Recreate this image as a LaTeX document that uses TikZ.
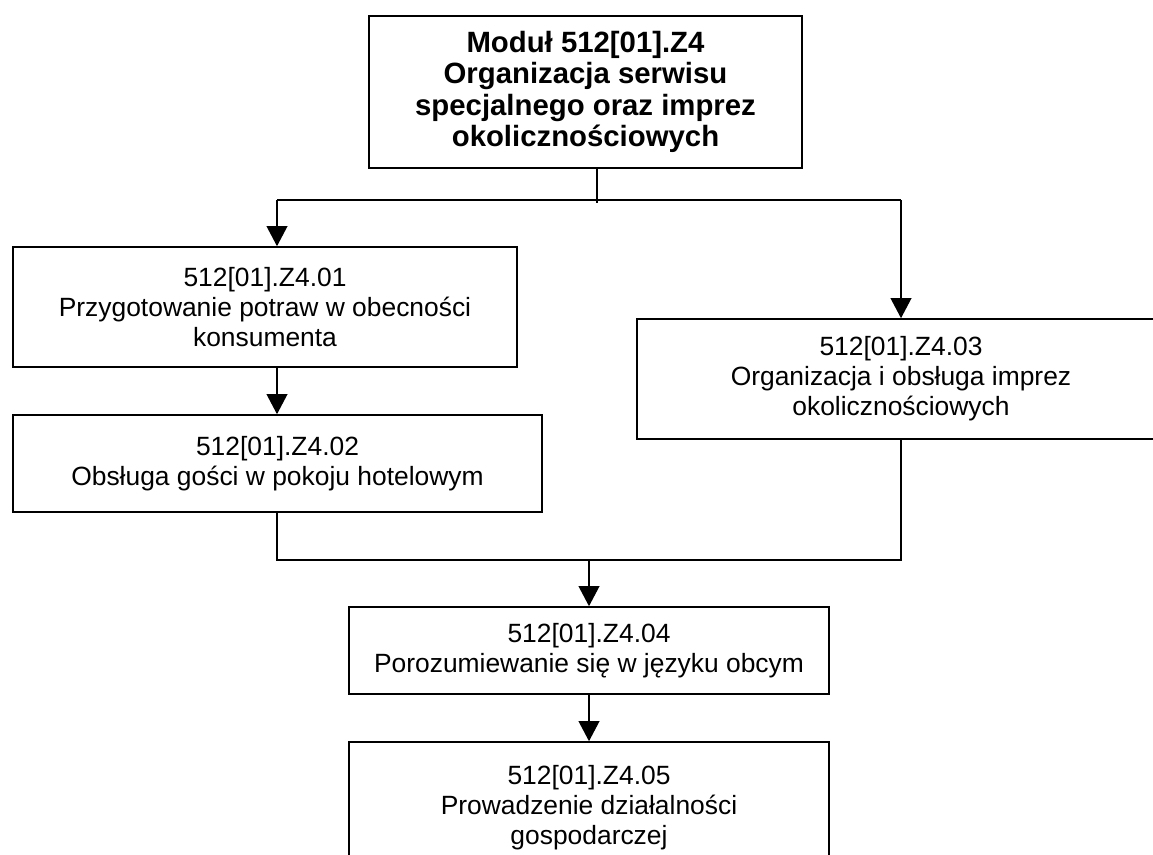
\documentclass[tikz,border=0pt]{standalone}
\usepackage{fontspec}
\setmainfont{Liberation Sans}
\usepackage{tikz}
\usetikzlibrary{arrows.meta}

\begin{document}
\begin{tikzpicture}[x=0.75pt,y=-0.75pt,
    box/.style={draw, line width=1.2pt, rectangle, inner sep=0pt, align=center,
                font=\fontsize{19.8}{22.5}\selectfont},
    modbox/.style={box, line width=2.1pt, font=\fontsize{22}{23.5}\selectfont\bfseries},
    line/.style={line width=1.2pt},
    arr/.style={line, -{Triangle[length=15pt,width=15.5pt]}}]

\useasboundingbox (0,0) rectangle (1153,854);
\clip (0,0) rectangle (1153,854);

%boxes
\node[modbox, minimum width=324.75pt, minimum height=114pt] (modul) at (585.5,92)
    {Moduł 512[01].Z4\\Organizacja serwisu\\specjalnego oraz imprez\\okolicznościowych};
\node[box, minimum width=378pt, minimum height=90pt] (z401) at (265,307)
    {512[01].Z4.01\\Przygotowanie potraw w obecności\\konsumenta};
\node[box, minimum width=396.75pt, minimum height=72.75pt] (z402) at (277.5,463.5)
    {512[01].Z4.02\\Obsługa gości w pokoju hotelowym};
\node[box, minimum width=396pt, minimum height=90pt] (z403) at (901,379)
    {512[01].Z4.03\\Organizacja i obsługa imprez\\okolicznościowych};
\node[box, minimum width=360pt, minimum height=65.25pt] (z404) at (589,650.5)
    {512[01].Z4.04\\Porozumiewanie się w języku obcym};
\node[box, minimum width=360pt, minimum height=99pt] (z405) at (589,808)
    {512[01].Z4.05\\Prowadzenie działalności\\gospodarczej};

%branch points
\coordinate (fork)  at (597,200);
\coordinate (forkL) at (277,200);
\coordinate (forkR) at (901,200);
\coordinate (joinL) at (277,560);
\coordinate (joinR) at (901,560);
\coordinate (join)  at (589,560);

%connectors
\draw[line] (modul.south -| fork) -- ++(0,34);
\draw[line] (forkL) -- (forkR);
\draw[arr]  (forkL) -- (z401.north -| forkL);
\draw[arr]  (forkR) -- (z403.north);
\draw[arr]  (z401.south -| forkL) -- (z402.north -| forkL);
%
\draw[line] (z402.south -| joinL) -- (joinL) -- (joinR) -- (z403.south);
\draw[arr]  (join) -- (z404.north);
\draw[arr]  (z404.south) -- (z405.north);

\end{tikzpicture}
\end{document}
